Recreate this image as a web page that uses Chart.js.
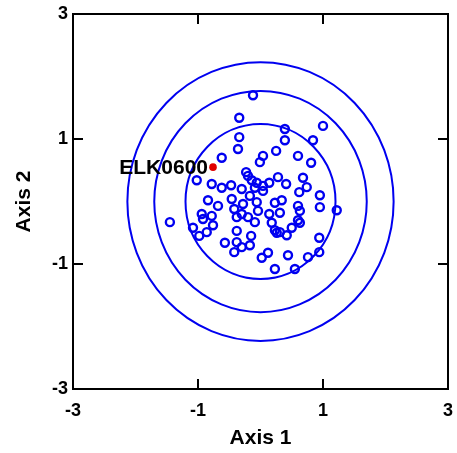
<!DOCTYPE html>
<html><head><meta charset="utf-8">
<script src="https://cdn.jsdelivr.net/npm/chart.js@4/dist/chart.umd.min.js"></script>
<style>html,body{margin:0;padding:0;background:#fff}</style>
</head><body>
<canvas id="c" width="457" height="453" style="display:block;width:457px;height:453px"></canvas>
<script>
// ---- data ----
const axis1 = [-0.12,-0.34,1.00,0.39,-0.34,0.39,0.84,-0.36,0.25,0.04,0.60,-0.62,-0.01,0.81,
  -0.23,-0.20,-1.02,-0.78,-0.62,-0.47,-0.30,-0.14,-0.06,0.04,0.14,0.28,0.41,0.68,0.74,0.62,
  -0.17,-0.06,-0.46,-0.84,-0.68,-0.42,-0.30,-0.20,-0.04,-0.09,0.23,0.34,0.31,0.14,0.18,0.23,
  0.26,0.31,0.60,0.63,0.60,0.63,0.50,0.42,-0.94,-0.78,-0.92,-1.45,-1.08,-0.86,-0.76,-0.98,
  -0.38,-0.57,-0.38,-0.15,-0.17,-0.30,-0.42,0.12,0.02,0.44,0.76,0.23,0.55,0.94,0.94,0.95,
  0.95,1.22,0.04,-0.09,-0.38,-0.28];
const axis2 = [1.70,1.34,1.21,1.16,1.03,0.98,0.98,0.84,0.81,0.73,0.73,0.70,0.63,0.62,
  0.47,0.41,0.34,0.28,0.22,0.26,0.20,0.34,0.30,0.25,0.30,0.39,0.28,0.38,0.23,0.15,
  0.09,-0.01,0.04,0.02,-0.07,-0.12,-0.20,-0.25,-0.15,-0.33,-0.02,0.02,-0.18,-0.20,-0.34,-0.46,
  -0.50,-0.49,-0.07,-0.15,-0.30,-0.34,-0.42,-0.54,-0.20,-0.23,-0.28,-0.33,-0.42,-0.49,-0.38,-0.55,
  -0.47,-0.66,-0.65,-0.55,-0.70,-0.73,-0.81,-0.82,-0.90,-0.86,-0.89,-1.08,-1.08,-0.58,-0.81,0.10,
  -0.09,-0.14,0.17,0.22,-0.25,-0.04];
const highlightName = ['ELK0600'];
const highlightX = [-0.76];
const highlightY = [0.55];
const ellipseCx = [0, 0, 0];
const ellipseCy = [0, 0, 0];
const ellipseRx = [1.20, 1.70, 2.13];
const ellipseRy = [1.24, 1.77, 2.23];
const tickValues = [-3, -1, 1, 3];
const innerTickValues = [-1, 1];
const xTitle = 'Axis 1';
const yTitle = 'Axis 2';

const BLUE = '#0000f0';
const FONT = "'Liberation Sans', Arial, sans-serif";

const decor = {
  id: 'decor',
  beforeDatasetsDraw(chart) {
    const {ctx, chartArea: a, scales: {x, y}} = chart;
    ctx.save();
    ctx.strokeStyle = BLUE;
    ctx.lineWidth = 2;
    ellipseRx.forEach((rx, i) => {
      const cx = x.getPixelForValue(ellipseCx[i]);
      const cy = y.getPixelForValue(ellipseCy[i]);
      const prx = Math.abs(x.getPixelForValue(ellipseCx[i] + rx) - cx);
      const pry = Math.abs(y.getPixelForValue(ellipseCy[i] + ellipseRy[i]) - cy);
      ctx.beginPath();
      ctx.ellipse(cx, cy, prx, pry, 0, 0, Math.PI * 2);
      ctx.stroke();
    });
    ctx.strokeStyle = '#000';
    ctx.lineWidth = 2;
    ctx.strokeRect(a.left, a.top, a.right - a.left, a.bottom - a.top);
    const tl = 10;
    ctx.beginPath();
    innerTickValues.forEach(v => {
      const px = x.getPixelForValue(v);
      const py = y.getPixelForValue(v);
      ctx.moveTo(px, a.bottom); ctx.lineTo(px, a.bottom - tl);
      ctx.moveTo(px, a.top); ctx.lineTo(px, a.top + tl);
      ctx.moveTo(a.left, py); ctx.lineTo(a.left + tl, py);
      ctx.moveTo(a.right, py); ctx.lineTo(a.right - tl, py);
    });
    ctx.stroke();
    ctx.restore();
  },
  afterDatasetsDraw(chart) {
    const {ctx} = chart;
    const meta = chart.getDatasetMeta(1);
    ctx.save();
    ctx.fillStyle = '#000';
    ctx.font = 'bold 21px ' + FONT;
    ctx.textAlign = 'right';
    ctx.textBaseline = 'middle';
    meta.data.forEach((pt, i) => {
      ctx.fillText(highlightName[i], pt.x - 5, pt.y + 1);
    });
    ctx.restore();
  }
};

const tickFont = {family: FONT, size: 18, weight: 'bold'};
const titleFont = {family: FONT, size: 21, weight: 'bold'};
const noOverhang = s => { s.paddingLeft = 0; s.paddingRight = 0; s.paddingTop = 0; s.paddingBottom = 0; };

new Chart(document.getElementById('c'), {
  type: 'scatter',
  data: {
    datasets: [
      {
        data: axis1.map((v, i) => ({x: v, y: axis2[i]})),
        pointRadius: 4,
        pointBorderWidth: 2.4,
        pointBorderColor: BLUE,
        pointBackgroundColor: 'rgba(0,0,0,0)',
        showLine: false
      },
      {
        data: highlightX.map((v, i) => ({x: v, y: highlightY[i]})),
        pointRadius: 3.8,
        pointBorderWidth: 0,
        pointBackgroundColor: '#e00000',
        pointBorderColor: '#e00000',
        showLine: false
      }
    ]
  },
  options: {
    responsive: false,
    animation: false,
    events: [],
    layout: {autoPadding: false, padding: {top: 14, right: 9, left: 0, bottom: 0}},
    plugins: {legend: {display: false}, tooltip: {enabled: false}},
    scales: {
      x: {
        type: 'linear', min: -3, max: 3,
        afterBuildTicks: s => { s.ticks = tickValues.map(v => ({value: v})); },
        afterFit: s => { s.height = 64; noOverhang(s); },
        grid: {display: false, drawTicks: false},
        border: {display: false},
        ticks: {font: tickFont, color: '#000', padding: 11, maxRotation: 0, autoSkip: false},
        title: {display: true, text: xTitle, font: titleFont, color: '#000', padding: {top: 4, bottom: 2}}
      },
      y: {
        type: 'linear', min: -3, max: 3,
        afterBuildTicks: s => { s.ticks = tickValues.map(v => ({value: v})); },
        afterFit: s => { s.width = 73; noOverhang(s); },
        grid: {display: false, drawTicks: false},
        border: {display: false},
        ticks: {font: tickFont, color: '#000', padding: 5, autoSkip: false},
        title: {display: true, text: yTitle, font: titleFont, color: '#000', padding: {top: 12, bottom: 0}}
      }
    }
  },
  plugins: [decor]
});
</script>
</body></html>
